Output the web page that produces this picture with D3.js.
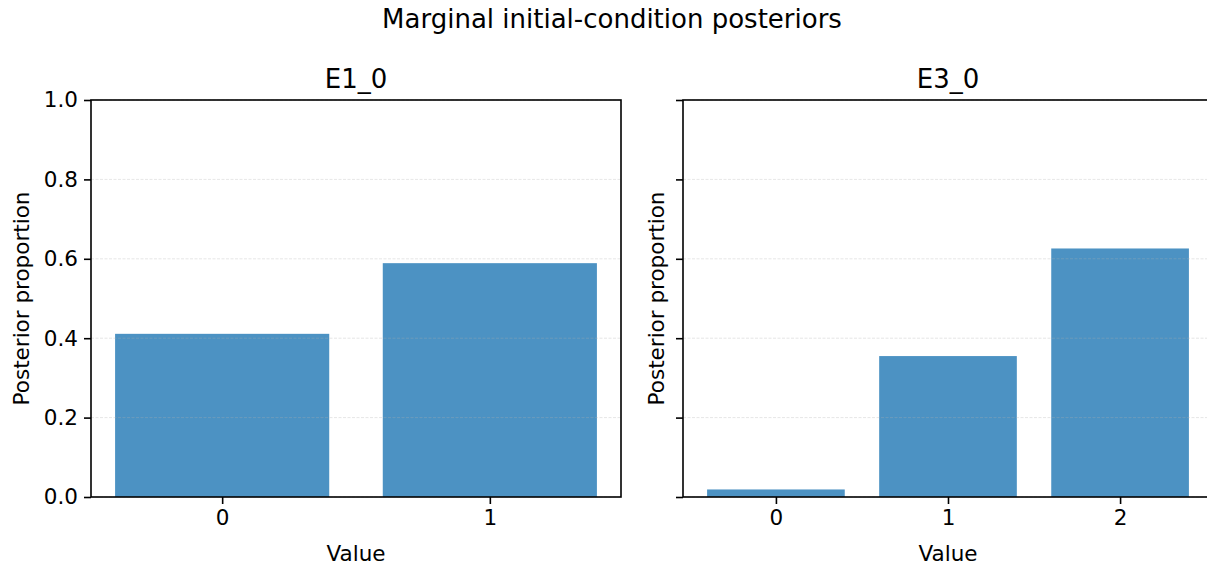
<!DOCTYPE html>
<html>
<head>
<meta charset="UTF-8">
<script src="https://d3js.org/d3.v7.min.js"></script>
<style>
  body { margin: 0; background: #fff; }
  text { font-family: "DejaVu Sans", sans-serif; fill: #000; }
</style>
</head>
<body>
<svg id="chart" width="1207" height="569"></svg>
<script>
// data
const suptitle = "Marginal initial-condition posteriors";
const panelTitles = ["E1_0", "E3_0"];
const e1Values = [0, 1];
const e1Props = [0.411, 0.589];
const e3Values = [0, 1, 2];
const e3Props = [0.019, 0.355, 0.626];
const yTicks = [0, 0.2, 0.4, 0.6, 0.8, 1.0];

const svg = d3.select("#chart");
const plotTop = 100, plotBottom = 497;
const barColor = "#1f77b4";

svg.append("text")
  .attr("x", 612).attr("y", 28)
  .attr("text-anchor", "middle")
  .style("font-size", "26px")
  .text(suptitle);

const y = d3.scaleLinear().domain([0, 1]).range([plotBottom, plotTop]);

function panel(left, right, title, cats, vals, showYLabels) {
  const n = cats.length;
  // matplotlib style margins around bars of width 0.8
  const pad = 0.05 * (n - 1 + 0.8);
  const x = d3.scaleLinear().domain([-0.4 - pad, n - 1 + 0.4 + pad]).range([left, right]);
  const g = svg.append("g");

  g.selectAll("rect.bar").data(vals).enter().append("rect")
    .attr("class", "bar")
    .attr("x", (d, i) => x(cats[i] - 0.4))
    .attr("width", (d, i) => x(cats[i] + 0.4) - x(cats[i] - 0.4))
    .attr("y", d => y(d))
    .attr("height", d => y(0) - y(d))
    .attr("fill", barColor)
    .attr("fill-opacity", 0.8);

  // grid on top of bars
  g.selectAll("line.grid").data(yTicks).enter().append("line")
    .attr("x1", left).attr("x2", right)
    .attr("y1", d => y(d)).attr("y2", d => y(d))
    .attr("stroke", "#b0b0b0")
    .attr("stroke-opacity", 0.4)
    .attr("stroke-width", 0.8)
    .attr("stroke-dasharray", "3,1.5");

  const yAxis = d3.axisLeft(y).tickValues(yTicks)
    .tickFormat(showYLabels ? d3.format(".1f") : () => "")
    .tickSize(7).tickPadding(6);
  const ya = g.append("g").attr("transform", `translate(${left},0)`).call(yAxis);
  ya.select(".domain").remove();

  const xAxis = d3.axisBottom(x).tickValues(cats).tickFormat(d3.format("d"))
    .tickSize(7).tickPadding(6);
  const xa = g.append("g").attr("transform", `translate(0,${plotBottom})`).call(xAxis);
  xa.select(".domain").remove();

  [ya, xa].forEach(a => {
    a.selectAll(".tick line").attr("stroke", "#000").attr("stroke-width", 1.6);
    a.selectAll(".tick text").style("font-size", "21.5px").attr("fill", "#000");
  });

  g.append("rect")
    .attr("x", left).attr("y", plotTop)
    .attr("width", right - left).attr("height", plotBottom - plotTop)
    .attr("fill", "none").attr("stroke", "#000").attr("stroke-width", 1.6);

  g.append("text")
    .attr("x", (left + right) / 2).attr("y", 88)
    .attr("text-anchor", "middle")
    .style("font-size", "26px")
    .text(title);

  g.append("text")
    .attr("x", (left + right) / 2).attr("y", 561)
    .attr("text-anchor", "middle")
    .style("font-size", "21.5px")
    .text("Value");

  const yl = showYLabels ? left - 62 : left - 19;
  g.append("text")
    .attr("transform", `translate(${yl},${(plotTop + plotBottom) / 2}) rotate(-90)`)
    .attr("text-anchor", "middle")
    .style("font-size", "21.5px")
    .text("Posterior proportion");
}

panel(91, 621, panelTitles[0], e1Values, e1Props, true);
panel(683, 1213, panelTitles[1], e3Values, e3Props, false);
</script>
</body>
</html>
